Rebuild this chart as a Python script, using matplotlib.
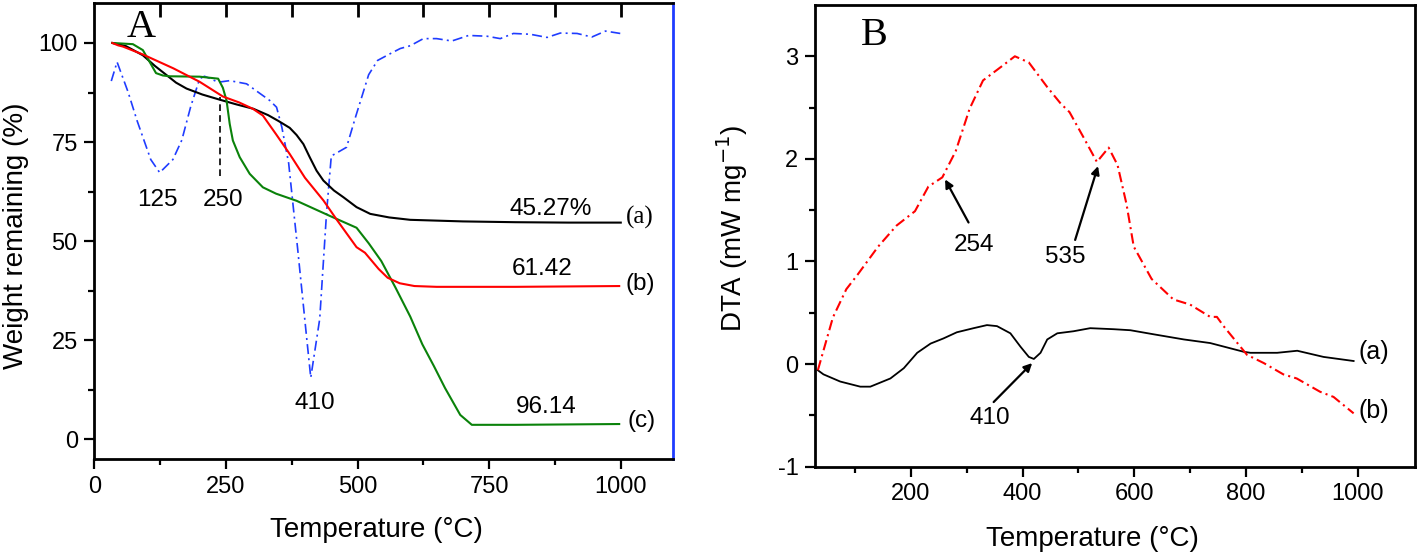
import matplotlib
matplotlib.use("Agg")
import matplotlib.pyplot as plt
from matplotlib.ticker import FixedLocator

plt.rcParams['font.family'] = ['Liberation Sans', 'DejaVu Sans']
plt.rcParams['axes.unicode_minus'] = False

# ---- panel A: TGA curves (weight remaining, %) ----
tga_a_t = [34, 60, 92, 115, 137, 155, 175, 205, 238, 270, 302, 330, 350, 371, 384, 397,
           409, 422, 435, 455, 473, 498, 524, 560, 600, 700, 800, 900, 1000]
tga_a_w = [100, 99.2, 96.9, 94.2, 91.9, 90.0, 88.5, 87.0, 85.7, 84.5, 83.4, 81.8, 80.3, 78.6,
           76.8, 74.5, 71.2, 67.8, 65.3, 62.8, 61.1, 58.6, 56.9, 56.0, 55.4, 55.0, 54.8,
           54.7, 54.7]

tga_b_t = [34, 45, 54, 92, 150, 200, 244, 275, 301, 320, 345, 371, 400, 435, 460, 498, 514,
           540, 557, 580, 608, 650, 717, 800, 900, 997]
tga_b_w = [100, 99.4, 99.1, 97.1, 93.6, 90.2, 86.5, 85.0, 83.4, 81.7, 77.0, 72.0, 66.0, 60.3,
           55.5, 48.5, 47.1, 43.0, 40.8, 39.4, 38.7, 38.5, 38.5, 38.5, 38.6, 38.7]

tga_c_t = [34, 73, 92, 105, 117, 130, 143, 200, 235, 244, 251, 257, 263, 276, 295, 320, 345,
           384, 447, 498, 521, 545, 572, 600, 623, 645, 666, 695, 717, 800, 900, 997]
tga_c_w = [100, 99.7, 98.2, 95.2, 92.4, 91.8, 91.6, 91.5, 91.0, 88.7, 85.5, 79.6, 75.4, 71.2,
           67.0, 63.6, 62.0, 60.2, 56.4, 53.4, 49.5, 45.0, 38.3, 31.0, 24.0, 18.5, 13.0, 6.2,
           3.7, 3.7, 3.8, 3.9]

# DTG trace drawn on the same scale (blue dash-dot)
dtg_t = [32, 43, 64, 81, 107, 124, 149, 166, 183, 200, 209, 217, 235, 257, 289, 333, 346,
         356, 369, 386, 403, 411, 428, 441, 450, 462, 479, 496, 521, 538, 562, 581, 600,
         625, 650, 679, 711, 746, 771, 796, 828, 860, 885, 917, 945, 971, 999]
dtg_v = [90.4, 95.2, 87.6, 80.4, 70.6, 67.3, 70.6, 75.5, 84, 91.0, 91.6, 91.2, 90.1, 90.5,
         89.7, 85.5, 83.8, 78.8, 69.7, 48.2, 25.9, 15.6, 30.4, 57.2, 71.5, 72.4, 73.7, 81.3,
         92, 95.6, 97.3, 98.6, 99.3, 101.1, 101.1, 100.5, 101.9, 101.7, 101.1, 102.4, 102.2,
         101.4, 102.5, 102.4, 101.5, 103, 102.4]

# ---- panel B: DTA curves (mW mg-1) ----
dta_a_t = [33, 43, 73, 109, 127, 163, 187, 211, 235, 258, 282, 312, 336, 354, 378, 396, 411,
           420, 432, 444, 462, 491, 521, 563, 593, 635, 689, 736, 796, 808, 856, 892, 939, 993]
dta_a_v = [-0.06, -0.10, -0.17, -0.22, -0.22, -0.14, -0.04, 0.11, 0.20, 0.25, 0.31, 0.35,
           0.38, 0.37, 0.30, 0.17, 0.07, 0.05, 0.11, 0.24, 0.30, 0.32, 0.35, 0.34, 0.33, 0.29,
           0.24, 0.205, 0.12, 0.11, 0.11, 0.13, 0.07, 0.03]

dta_b_t = [33, 60, 84, 104, 141, 174, 207, 231, 256, 280, 305, 329, 362, 386, 411, 444, 468,
           484, 509, 533, 554, 570, 586, 599, 631, 670, 700, 736, 748, 760, 802, 832, 867,
           891, 933, 957, 993]
dta_b_v = [-0.06, 0.455, 0.73, 0.87, 1.145, 1.35, 1.49, 1.73, 1.82, 2.075, 2.49, 2.765, 2.90,
           3.0, 2.94, 2.70, 2.54, 2.455, 2.21, 1.97, 2.11, 1.94, 1.56, 1.145, 0.83, 0.63,
           0.58, 0.46, 0.46, 0.37, 0.09, 0.01, -0.10, -0.14, -0.27, -0.32, -0.48]

top_ticks_a = [125, 250, 375, 500, 625, 750, 875, 1000]

fig = plt.figure(figsize=(14.18, 5.54), dpi=100)

# ================= panel A =================
axA = fig.add_axes([0.0666, 0.1709, 0.4083, 0.8231])
axA.plot(dtg_t, dtg_v, color='#1f3cff', lw=1.2, dashes=(6, 2.5, 1.2, 2.5))
axA.plot(tga_a_t, tga_a_w, color='black', lw=1.5)
axA.plot(tga_c_t, tga_c_w, color='#0a820a', lw=1.5)
axA.plot(tga_b_t, tga_b_w, color='#ff0000', lw=1.5)
axA.plot([238, 238], [66.5, 86.3], color='black', lw=1.2, ls=(0, (4, 2.5)))

axA.set_xlim(0, 1100)
axA.set_ylim(-5, 110)
axA.xaxis.set_major_locator(FixedLocator([0, 250, 500, 750, 1000]))
axA.xaxis.set_minor_locator(FixedLocator([125, 375, 625, 875]))
axA.yaxis.set_major_locator(FixedLocator([0, 25, 50, 75, 100]))
axA.yaxis.set_minor_locator(FixedLocator([12.5, 37.5, 62.5, 87.5]))
axA.tick_params(which='major', direction='out', length=7, width=1.6, labelsize=17, pad=5)
axA.tick_params(which='minor', direction='out', length=4, width=1.6)
for s in axA.spines.values():
    s.set_linewidth(2)
axA.spines['right'].set_color('#1f3cff')

# inward ticks along the top edge every 125 degrees
axA.vlines(top_ticks_a, 0.971, 1.0, transform=axA.get_xaxis_transform(),
           colors='black', lw=2, clip_on=False, zorder=6)

axA.set_xlabel('Temperature (°C)', fontsize=20)
axA.set_ylabel('Weight remaining (%)', fontsize=20)
axA.xaxis.set_label_coords(0.4867, -0.127)
axA.yaxis.set_label_coords(-0.113, 0.49)

axA.text(89, 104, 'A', fontsize=29, family='Liberation Serif', ha='center', va='center')
axA.text(120, 60.4, '125', fontsize=17.5, ha='center', va='center')
axA.text(244, 60.4, '250', fontsize=17.5, ha='center', va='center')
axA.text(419, 9.2, '410', fontsize=17.5, ha='center', va='center')
axA.text(866, 58.1, '45.27%', fontsize=17.5, ha='center', va='center')
axA.text(851, 42.9, '61.42', fontsize=17.5, ha='center', va='center')
axA.text(859, 8.2, '96.14', fontsize=17.5, ha='center', va='center')
axA.text(1036, 56, '(a)', fontsize=18, family='Liberation Serif', ha='center', va='center')
axA.text(1037, 39.1, '(b)', fontsize=17.5, ha='center', va='center')
axA.text(1040, 4.6, '(c)', fontsize=17.5, ha='center', va='center')

# ================= panel B =================
axB = fig.add_axes([0.5748, 0.1576, 0.4231, 0.8334])
axB.plot(dta_a_t, dta_a_v, color='black', lw=1.3)
axB.plot(dta_b_t, dta_b_v, color='#ff0000', lw=1.5, dashes=(5, 2, 1, 2))

axB.set_xlim(28, 1103)
axB.set_ylim(-1, 3.5)
axB.xaxis.set_major_locator(FixedLocator([200, 400, 600, 800, 1000]))
axB.xaxis.set_minor_locator(FixedLocator([100, 300, 500, 700, 900]))
axB.yaxis.set_major_locator(FixedLocator([-1, 0, 1, 2, 3]))
axB.yaxis.set_minor_locator(FixedLocator([-0.5, 0.5, 1.5, 2.5]))
axB.tick_params(which='major', direction='out', length=7, width=1.6, labelsize=17, pad=5)
axB.tick_params(which='minor', direction='out', length=4, width=1.6)
for s in axB.spines.values():
    s.set_linewidth(2)

axB.set_xlabel('Temperature (°C)', fontsize=20)
axB.set_ylabel('DTA (mW mg$^{-1}$)', fontsize=20)
axB.xaxis.set_label_coords(0.4625, -0.129)
axB.yaxis.set_label_coords(-0.108, 0.517)

axB.text(134, 3.2, 'B', fontsize=29, family='Liberation Serif', ha='center', va='center')
arrow = dict(arrowstyle='-|>', color='black', lw=1.6, mutation_scale=12, shrinkA=0, shrinkB=0)
axB.annotate('', xy=(261, 1.80), xytext=(303, 1.38), arrowprops=arrow)
axB.annotate('', xy=(535, 1.93), xytext=(494, 1.21), arrowprops=arrow)
axB.annotate('', xy=(417, 0.01), xytext=(348, -0.37), arrowprops=arrow)
axB.text(313, 1.165, '254', fontsize=17.5, ha='center', va='center')
axB.text(477, 1.04, '535', fontsize=17.5, ha='center', va='center')
axB.text(341, -0.53, '410', fontsize=17.5, ha='center', va='center')
axB.text(1029, 0.12, '(a)', fontsize=18, ha='center', va='center')
axB.text(1030, -0.46, '(b)', fontsize=18, ha='center', va='center')

fig.savefig('out.png', dpi=100)
